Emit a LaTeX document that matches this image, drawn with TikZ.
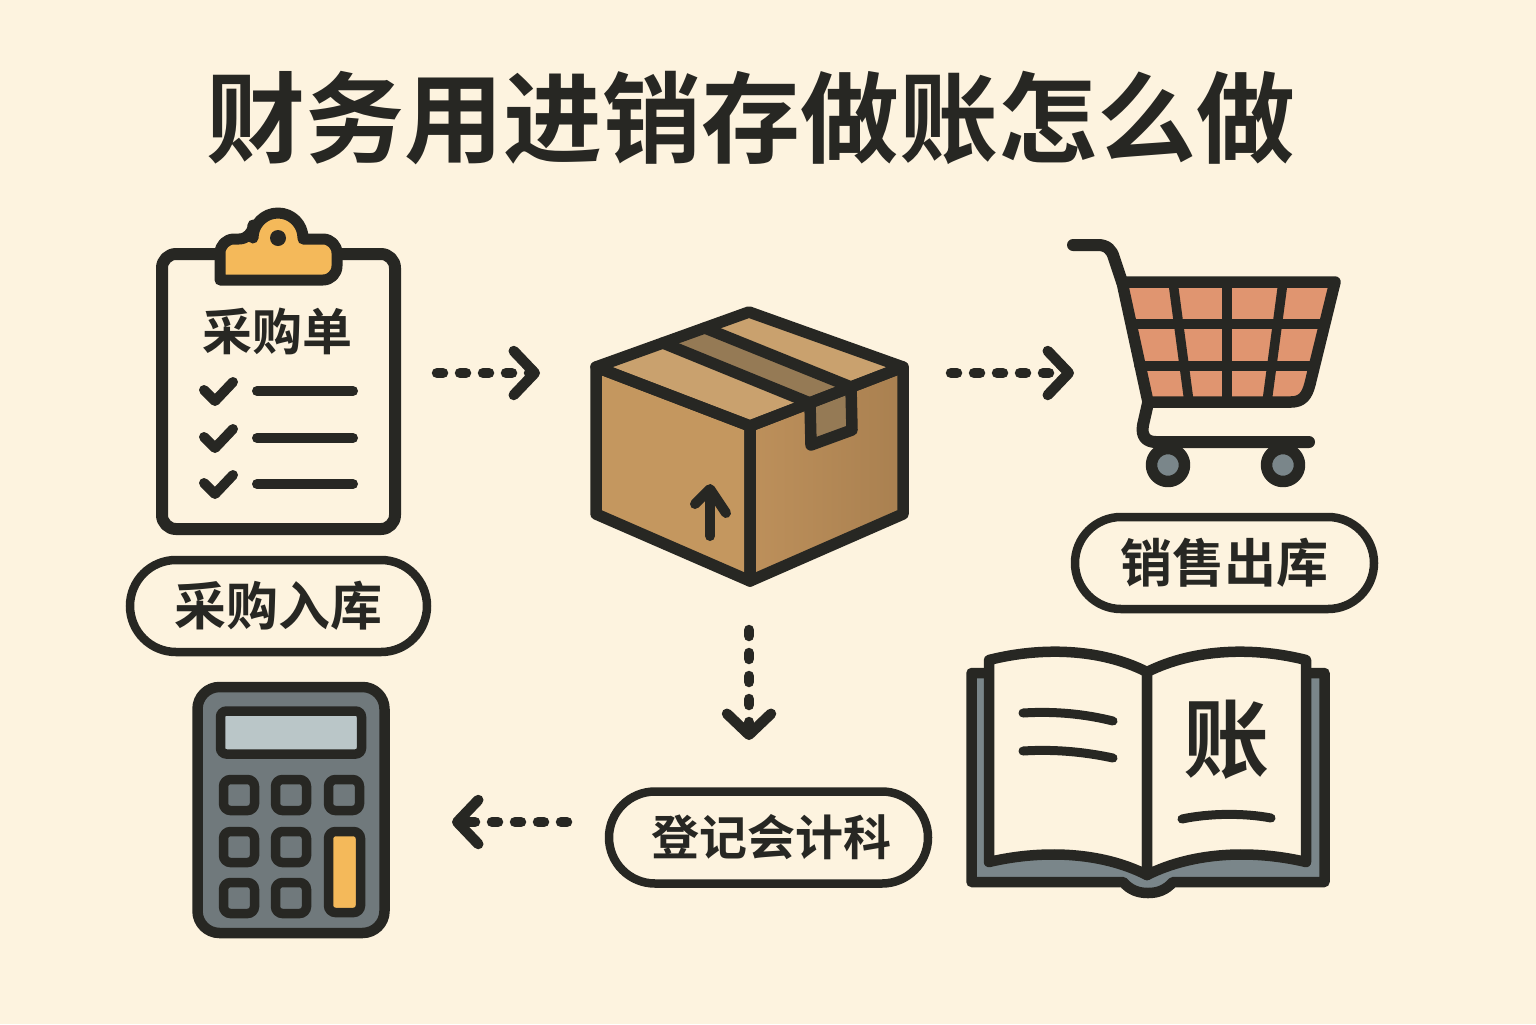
\documentclass[tikz,border=0pt]{standalone}
\usepackage{fontspec}
\setmainfont{Noto Sans CJK SC}[BoldFont={* Bold}]
\usetikzlibrary{arrows.meta,shapes.misc}
\definecolor{paper}{HTML}{FDF3DF}
\definecolor{ink}{HTML}{272723}
\definecolor{amber}{HTML}{F4B95A}
\definecolor{carton}{HTML}{C4975F}
\definecolor{cartonside}{HTML}{BD905B}
\definecolor{cartonshade}{HTML}{A98050}
\definecolor{cartontop}{HTML}{C9A16E}
\definecolor{tape}{HTML}{957A55}
\definecolor{basket}{HTML}{E09570}
\definecolor{slate}{HTML}{7A868A}
\definecolor{casing}{HTML}{70797C}
\definecolor{lcd}{HTML}{BAC6C8}
\tikzset{
  outline/.style={draw=ink,line width=5.75pt,line join=round,line cap=round},
  thinline/.style={draw=ink,line width=5pt,line join=round,line cap=round},
  tagpill/.style={rounded rectangle,draw=ink,line width=4.25pt,fill=paper,inner sep=0pt,
    minimum height=46pt,font=\bfseries\fontsize{26pt}{26pt}\selectfont,text=ink},
  dotflow/.style={draw=ink,line width=5.25pt,line cap=round,dash pattern=on 3pt off 8.5pt,
    -{Straight Barb[round,length=10.5pt,width=22pt,line width=5.25pt]}},
  keycap/.style={draw=ink,line width=4.75pt,rounded corners=3.5pt,fill=casing}
}
\begin{document}
\begin{tikzpicture}[x=0.5pt,y=-0.5pt]
\def\cliprect{(162,254) rectangle (395,529)}
\def\clipclamp{(220,280) [rounded corners=7pt] -- (220,239) -- (253,239) [sharp corners] -- (253,238) arc (180:360:25) -- (303,239) [rounded corners=7pt] -- (337,239) -- (337,280) [sharp corners] -- cycle}
\def\boxleft{(596,367) -- (750,426) -- (750,581) -- (596,514) -- cycle}
\def\boxright{(750,426) -- (903,367) -- (903,514) -- (750,581) -- cycle}
\def\boxtop{(596,367) -- (749,312) -- (903,367) -- (750,426) -- cycle}
\def\boxtape{(663,343) -- (705,328) -- (851,387) -- (810,403) -- cycle}
\def\boxtab{(810,403) -- (851,387) -- (852,430) -- (811,445) -- cycle}
\def\cartframe{(1122,282) -- (1335,282) -- (1310,384) .. controls (1307,396) and (1302,402) .. (1291,402) -- (1148,402) -- cycle}
\def\bookback{(971.5,673) -- (1324.5,673) -- (1324.5,882) -- (1173,882) .. controls (1166,890) and (1158,893) .. (1148,893) .. controls (1138,893) and (1130,890) .. (1123,882) -- (971.5,882) -- cycle}
\def\pageleft{(989,660) .. controls (1040,647) and (1100,648) .. (1147,672) -- (1147,875) .. controls (1100,851) and (1040,850) .. (989,862) -- cycle}
\def\pageright{(1306,660) .. controls (1255,647) and (1195,648) .. (1147,672) -- (1147,875) .. controls (1195,851) and (1255,850) .. (1306,862) -- cycle}

\fill[paper] (0,0) rectangle (1536,1024);
\useasboundingbox (0,0) rectangle (1536,1024);

\node[text=ink,inner sep=0pt,font=\bfseries\fontsize{49.5pt}{50pt}\selectfont] (headline) at (751,118) {财务用进销存做账怎么做};

% First the clipboard, the clamp goes over its upper edge:
\draw[outline,line width=6pt,fill=paper,rounded corners=7pt] \cliprect;
\draw[outline,line width=5.5pt,fill=amber] \clipclamp;
\fill[ink] (278,238) circle (8);
\node[text=ink,inner sep=0pt,font=\bfseries\fontsize{25pt}{25pt}\selectfont] (orderlabel) at (277,331) {采购单};
\draw[thinline] (204,390) -- (215,401) -- (233,382);
\draw[thinline] (204,437) -- (215,448) -- (233,429);
\draw[thinline] (204,483) -- (215,494) -- (233,475);
\draw[thinline] (257,391) -- (353,391);
\draw[thinline] (257,438) -- (353,438);
\draw[thinline] (257,484) -- (353,484);
\node[tagpill,minimum width=148.5pt] (buytag) at (278.5,606) {采购入库};

% Next the carton, faces first and the tape on top of them:
\fill[carton] \boxleft;
\shade[left color=cartonside,right color=cartonshade] \boxright;
\fill[cartontop] \boxtop;
\fill[tape] \boxtape;
\fill[tape] \boxtab;
\draw[outline] \boxleft;
\draw[outline] \boxright;
\draw[outline] \boxtop;
\draw[outline] (663,343) -- (810,403) -- (811,445) -- (852,430) -- (851,387) -- (705,328);
\draw[thinline] (710,536) -- (710,492);
\draw[thinline] (695,504) -- (710,489) -- (726,513);

% The cart:
\fill[basket] \cartframe;
\draw[outline,line width=4.75pt] (1173,282) -- (1189,402);
\draw[outline,line width=4.75pt] (1227,282) -- (1227,402);
\draw[outline,line width=4.75pt] (1283,282) -- (1267,402);
\draw[outline,line width=4.75pt] (1131,324) -- (1325,324);
\draw[outline,line width=4.75pt] (1139,366) -- (1315,366);
\draw[outline] \cartframe;
\draw[outline,line width=6pt] (1073,245) -- (1098,245) .. controls (1107,245) and (1112,250) .. (1114,258) -- (1122,282);
\draw[outline,fill=slate] (1168,465) circle (16.5);
\draw[outline,fill=slate] (1283,465) circle (16.5);
\draw[outline,line width=6pt] (1148,403) -- (1143,425) .. controls (1141,436) and (1146,442) .. (1156,442) -- (1309,442);
\node[tagpill,minimum width=149.5pt] (selltag) at (1224.5,563) {\raisebox{-1pt}{销售出库}};

% The ledger, back cover below the two pages:
\draw[outline,line width=5.25pt,fill=slate] \bookback;
\draw[outline,line width=5.25pt,fill=paper] \pageleft;
\draw[outline,line width=5.25pt,fill=paper] \pageright;
\draw[thinline,line width=4.5pt] (1023,713) .. controls (1055,711) and (1085,714) .. (1113,721);
\draw[thinline,line width=4.5pt] (1023,751) .. controls (1055,749) and (1085,752) .. (1113,758);
\draw[thinline,line width=4.5pt] (1182,819) .. controls (1210,813) and (1245,813) .. (1271,818);
\node[text=ink,inner sep=0pt,font=\bfseries\fontsize{43pt}{43pt}\selectfont] (ledgerlabel) at (1226,740) {账};

% The calculator with its keys:
\draw[outline,line width=5.25pt,fill=casing,rounded corners=11pt] (197.5,687) rectangle (384.5,933);
\draw[keycap,fill=lcd,rounded corners=3pt] (220.5,711) rectangle (361.5,754);
\draw[keycap] (223.5,779.5) rectangle (254.5,810.5);
\draw[keycap] (275.5,779.5) rectangle (306.5,810.5);
\draw[keycap] (328.5,779.5) rectangle (359.5,810.5);
\draw[keycap] (223.5,831.5) rectangle (254.5,862.5);
\draw[keycap] (275.5,831.5) rectangle (306.5,862.5);
\draw[keycap] (223.5,882.5) rectangle (254.5,913.5);
\draw[keycap] (275.5,882.5) rectangle (306.5,913.5);
\draw[keycap,fill=amber] (328.5,831.5) rectangle (360.5,912.5);
\node[tagpill,minimum width=159.5pt] (entrytag) at (768.5,837.5) {\fontsize{24pt}{24pt}\selectfont\hspace*{3pt}\raisebox{-1pt}{登记会计科}};

% Finally the dotted arrows:
\coordinate (orderout) at (437,373);
\coordinate (cartonin) at (540,373);
\coordinate (cartonout) at (951,373);
\coordinate (cartin) at (1074,373);
\coordinate (cartondown) at (749,630);
\coordinate (entryin) at (749,740);
\coordinate (entryout) at (567,822);
\coordinate (calcin) at (452,822);
\draw[dotflow] (orderout) -- (cartonin);
\draw[dotflow] (cartonout) -- (cartin);
\draw[dotflow] (cartondown) -- (entryin);
\draw[dotflow] (entryout) -- (calcin);

\end{tikzpicture}
\end{document}
